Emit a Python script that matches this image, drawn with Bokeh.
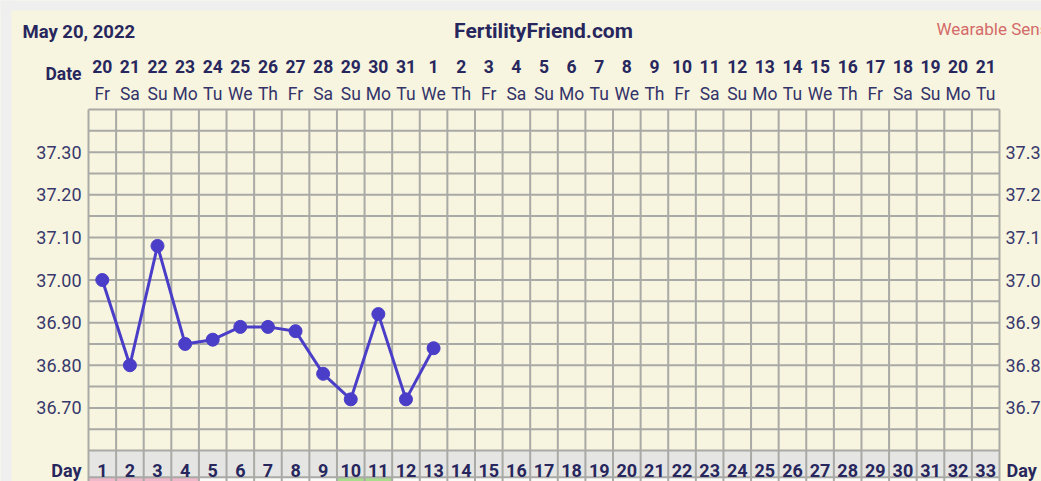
from bokeh.plotting import figure
from bokeh.models import Range1d, ColumnDataSource
from bokeh.core.properties import value
from bokeh.embed import file_html
from bokeh.resources import INLINE

# ---- data ----
title = "May 20, 2022"
site = "FertilityFriend.com"
note = "Wearable Sensor"
cycle_days = list(range(1, 34))
dates = [20, 21, 22, 23, 24, 25, 26, 27, 28, 29, 30, 31,
         1, 2, 3, 4, 5, 6, 7, 8, 9, 10, 11, 12, 13, 14, 15, 16, 17, 18, 19, 20, 21]
weekdays = ["Fr", "Sa", "Su", "Mo", "Tu", "We", "Th"] * 4 + ["Fr", "Sa", "Su", "Mo", "Tu"]
temp_days = list(range(1, 14))
temps = [37.00, 36.80, 37.08, 36.85, 36.86, 36.89, 36.89, 36.88, 36.78, 36.72, 36.92, 36.72, 36.84]
y_ticks = [36.70, 36.80, 36.90, 37.00, 37.10, 37.20, 37.30]
t_min, t_max = 36.60, 37.40
row_colors = ["#eeb9ca"] * 4 + ["#fbfbf8"] * 5 + ["#a9dc8d"] * 2 + ["#fbfbf8"] * 22

# ---- layout (pixel geometry of page) ----
W, H = 1041, 481
OFF = 0
PX_LEFT, PX_RIGHT = 88.0, 999.0     # grid edges on page
PY_TOP, PY_BOT = 109.0, 450.0       # temp grid edges on page
col = (PX_RIGHT - PX_LEFT) / len(cycle_days)
ppd = (PY_BOT - PY_TOP) / (t_max - t_min)

def px2x(px):
    return 0.5 + (px - PX_LEFT) / col

def py2y(py):
    return t_max - (py - PY_TOP) / ppd

x0, x1 = px2x(OFF), px2x(OFF + W)
y1, y0 = py2y(OFF), py2y(OFF + H)

BG = "#f7f5df"
GRID = "#a9a9a6"
NAVY = "#27275e"
LINEC = "#4a3dc8"

p = figure(width=W, height=H, output_backend="svg", toolbar_location=None,
           x_range=Range1d(x0, x1), y_range=Range1d(y0, y1),
           x_axis_type=None, y_axis_type=None, min_border=0,
           background_fill_color=BG, border_fill_color=BG, outline_line_color=None)
p.xgrid.visible = False
p.ygrid.visible = False

# light grey page strip at top and left
p.quad(left=[x0 - 1], right=[x1 + 1], top=[y1 + 0.01], bottom=[py2y(10)],
       fill_color="#efefef", line_color=None)
p.quad(left=[x0 - 1], right=[px2x(11)], top=[y1 + 0.01], bottom=[y0 - 0.01],
       fill_color="#efefef", line_color=None)

day_top = t_min
day_bot = py2y(476.7)
bottom = y0 - 0.01

# day row and bottom colored row
p.quad(left=[d - 0.5 for d in cycle_days], right=[d + 0.5 for d in cycle_days],
       top=day_top, bottom=day_bot, fill_color="#e5e5e3", line_color=None)
p.quad(left=[d - 0.5 for d in cycle_days], right=[d + 0.5 for d in cycle_days],
       top=day_bot, bottom=bottom, fill_color=row_colors, line_color=None)

# grid lines
hvals = [round(t_min + 0.05 * i, 2) for i in range(17)] + [day_bot]
p.segment(x0=[0.5] * len(hvals), x1=[len(cycle_days) + 0.5] * len(hvals),
          y0=hvals, y1=hvals, line_color=GRID, line_width=2)
vvals = [d - 0.5 for d in cycle_days] + [len(cycle_days) + 0.5]
p.segment(x0=vvals, x1=vvals, y0=[bottom] * len(vvals), y1=[t_max] * len(vvals),
          line_color=GRID, line_width=2)

# temperature line
src = ColumnDataSource(dict(x=temp_days, y=temps))
p.line("x", "y", source=src, line_color=LINEC, line_width=3)
p.scatter("x", "y", source=src, size=13, fill_color=LINEC, line_color=LINEC)

FONT = value("Roboto")

# y tick labels both sides
p.text(x=[px2x(81)] * len(y_ticks), y=y_ticks, text=[f"{v:.2f}" for v in y_ticks],
       text_align="right", text_baseline="middle", text_font=FONT,
       text_font_size="18px", text_color="#38386c")
p.text(x=[px2x(1005)] * len(y_ticks), y=y_ticks, text=[f"{v:.2f}" for v in y_ticks],
       text_align="left", text_baseline="middle", text_font=FONT,
       text_font_size="18px", text_color="#38386c")

# header rows
p.text(x=cycle_days, y=[py2y(66)] * len(cycle_days), text=[str(d) for d in dates],
       text_align="center", text_baseline="alphabetic", text_font=FONT,
       text_font_style="bold", text_font_size="17.5px", text_color=NAVY)
p.text(x=cycle_days, y=[py2y(93)] * len(cycle_days), text=weekdays,
       text_align="center", text_baseline="alphabetic", text_font=FONT,
       text_font_size="17.5px", text_color="#33336a")
p.text(x=[px2x(81)], y=[py2y(73)], text=["Date"], text_align="right",
       text_baseline="alphabetic", text_font=FONT, text_font_style="bold",
       text_font_size="17.5px", text_color=NAVY)

# day row
p.text(x=cycle_days, y=[py2y(470)] * len(cycle_days), text=[str(d) for d in cycle_days],
       text_align="center", text_baseline="alphabetic", text_font=FONT,
       text_font_style="bold", text_font_size="18px", text_color=NAVY)
p.text(x=[px2x(81)], y=[py2y(470)], text=["Day"], text_align="right",
       text_baseline="alphabetic", text_font=FONT, text_font_style="bold",
       text_font_size="18px", text_color=NAVY)
p.text(x=[px2x(1006)], y=[py2y(470)], text=["Day"], text_align="left",
       text_baseline="alphabetic", text_font=FONT, text_font_style="bold",
       text_font_size="18px", text_color=NAVY)

# titles
p.text(x=[px2x(22)], y=[py2y(31)], text=[title], text_align="left",
       text_baseline="alphabetic", text_font=FONT, text_font_style="bold",
       text_font_size="18.5px", text_color=NAVY)
p.text(x=[px2x(543)], y=[py2y(30)], text=[site], text_align="center",
       text_baseline="alphabetic", text_font=FONT, text_font_style="bold",
       text_font_size="21px", text_color=NAVY)
p.text(x=[px2x(936)], y=[py2y(28)], text=[note], text_align="left",
       text_baseline="alphabetic", text_font=FONT,
       text_font_size="17px", text_color="#d46a6a")

open("out.html", "w").write(file_html(p, INLINE))
